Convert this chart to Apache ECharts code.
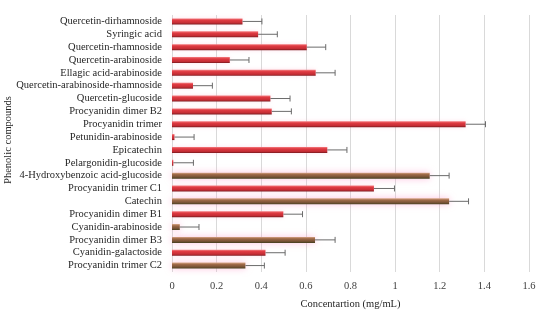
<!DOCTYPE html>
<html><head><meta charset="utf-8">
<script src="https://cdn.jsdelivr.net/npm/echarts@6/dist/echarts.min.js"></script>
<style>html,body{margin:0;padding:0;background:#fff}#c{width:550px;height:325px}</style>
</head><body><div id="c"></div>
<script>
const categories = ["Quercetin-dirhamnoside","Syringic acid","Quercetin-rhamnoside","Quercetin-arabinoside","Ellagic acid-arabinoside","Quercetin-arabinoside-rhamnoside","Quercetin-glucoside","Procyanidin dimer B2","Procyanidin trimer","Petunidin-arabinoside","Epicatechin","Pelargonidin-glucoside","4-Hydroxybenzoic acid-glucoside","Procyanidin trimer C1","Catechin","Procyanidin dimer B1","Cyanidin-arabinoside","Procyanidin dimer B3","Cyanidin-galactoside","Procyanidin trimer C2"];
const values = [0.316,0.386,0.604,0.259,0.644,0.094,0.441,0.447,1.316,0.011,0.696,0.006,1.155,0.905,1.242,0.499,0.035,0.641,0.419,0.329];
const errors = [0.087,0.086,0.085,0.086,0.087,0.087,0.088,0.088,0.089,0.088,0.088,0.09,0.087,0.092,0.087,0.086,0.086,0.09,0.088,0.085];
const groups = ["r","r","r","r","r","r","r","r","r","r","r","r","b","r","b","r","b","b","r","b"];
const xTicks = [0,0.2,0.4,0.6,0.8,1,1.2,1.4,1.6];
const yTitle = "Phenolic compounds";
const xTitle = "Concentartion (mg/mL)";

const FONT = "Liberation Serif";
const redGrad = new echarts.graphic.LinearGradient(0,0,0,1,[
  {offset:0,color:'#f37f82'},{offset:0.3,color:'#e03a42'},{offset:0.75,color:'#c42c34'},{offset:1,color:'#7a1a1e'}]);
const brownGrad = new echarts.graphic.LinearGradient(0,0,0,1,[
  {offset:0,color:'#d8a88a'},{offset:0.3,color:'#a06a48'},{offset:0.75,color:'#745034'},{offset:1,color:'#45401f'}]);

const barData = values.map((v,i)=>({
  value:v,
  itemStyle: groups[i]==='b'
    ? {color:brownGrad, shadowColor:'rgba(255,150,200,0.6)', shadowBlur:7}
    : {color:redGrad, shadowColor:'rgba(255,170,200,0.35)', shadowBlur:4}
}));
const errData = values.map((v,i)=>[i, v, v+errors[i]]);

const chart = echarts.init(document.getElementById('c'), null, {renderer:'canvas'});
chart.setOption({
  animation:false,
  grid:{left:172, right:21, top:15, bottom:53, containLabel:false, outerBoundsMode:'none'},
  graphic:[{type:'text', x:8, y:140, rotation:Math.PI/2,
    style:{text:yTitle, fontFamily:FONT, fontSize:10.5, fill:'#262626', align:'center', verticalAlign:'middle'}}],
  xAxis:{type:'value', min:0, max:1.6, interval:0.2,
    axisLine:{show:false}, axisTick:{show:false},
    splitLine:{show:true, lineStyle:{color:'#d9d9d9', width:1}},
    axisLabel:{fontFamily:FONT, fontSize:10.5, color:'#404040', margin:9,
      formatter:v=>{const t=xTicks.find(x=>Math.abs(x-v)<1e-9); return t===undefined?'':String(t);}},
    name:xTitle, nameLocation:'middle', nameGap:27,
    nameTextStyle:{fontFamily:FONT, fontSize:10.5, color:'#262626'}},
  yAxis:{type:'category', data:categories, inverse:true,
    axisLine:{show:false}, axisTick:{show:false},
    axisLabel:{interval:0, fontFamily:FONT, fontSize:10.5, color:'#262626', margin:10}},
  series:[
    {type:'bar', data:barData, barWidth:6, z:2},
    {type:'custom', z:3, data:errData,
      renderItem:(params, api)=>{
        const y = api.value(0);
        const p0 = api.coord([api.value(1), y]);
        const p1 = api.coord([api.value(2), y]);
        const st = {stroke:'#6b6b6b', lineWidth:1};
        return {type:'group', children:[
          {type:'line', shape:{x1:p0[0], y1:p0[1], x2:p1[0], y2:p1[1]}, style:st},
          {type:'line', shape:{x1:p1[0], y1:p1[1]-3, x2:p1[0], y2:p1[1]+3}, style:st}
        ]};
      },
      encode:{x:[1,2], y:0}}
  ]
});
</script></body></html>
